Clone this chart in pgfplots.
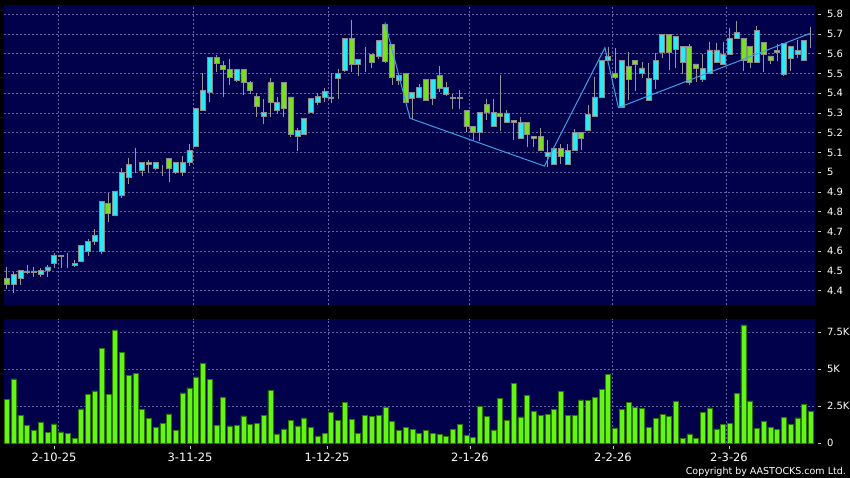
\documentclass[border=0pt]{standalone}
\usepackage{pgfplots}
\pgfplotsset{compat=1.18}
\usepackage{pgfplotstable}
\usepackage{fontspec}
\setmainfont{DejaVu Sans}
\definecolor{navybg}{RGB}{0,0,75}
\definecolor{upcol}{RGB}{40,235,245}
\definecolor{dncol}{RGB}{120,225,30}
\definecolor{edgecol}{RGB}{140,140,140}
\definecolor{wickcol}{RGB}{150,150,150}
\definecolor{gridcol}{RGB}{100,100,165}
\definecolor{volcol}{RGB}{100,245,20}
\definecolor{voledge}{RGB}{40,120,0}
\definecolor{zigcol}{RGB}{60,160,230}
\definecolor{tickcol}{RGB}{200,200,200}
\newcommand\rlab{\fontsize{10pt}{12pt}\selectfont}
\newcommand\dlab{\fontsize{11.5pt}{13pt}\selectfont}
\newcommand\clab{\fontsize{9.5pt}{11pt}\selectfont}

\pgfplotstableread{
i o h l c
0 4.462 4.52 4.41 4.432
1 4.432 4.496 4.39 4.484
2 4.462 4.505 4.429 4.501
3 4.495 4.53 4.485 4.50
4 4.495 4.52 4.47 4.50
5 4.481 4.516 4.47 4.503
6 4.503 4.53 4.47 4.52
7 4.538 4.589 4.516 4.579
8 4.578 4.58 4.516 4.572
9 4.571 4.59 4.516 4.571
10 4.528 4.555 4.518 4.538
11 4.549 4.63 4.549 4.630
12 4.599 4.663 4.577 4.65
13 4.65 4.712 4.63 4.68
14 4.599 4.854 4.587 4.854
15 4.842 4.893 4.749 4.792
16 4.781 4.905 4.781 4.905
17 4.883 5.019 4.871 5.0
18 4.974 5.07 4.94 5.04
19 5.043 5.12 4.997 5.043
20 5.009 5.05 4.982 5.05
21 5.04 5.06 4.997 5.05
22 5.021 5.05 5.009 5.05
23 5.0 5.036 4.982 5.0
24 5.068 5.068 4.952 5.019
25 5.0 5.05 4.99 5.05
26 5.0 5.082 4.982 5.05
27 5.05 5.143 5.031 5.111
28 5.129 5.323 5.129 5.323
29 5.313 5.504 5.313 5.415
30 5.403 5.58 5.353 5.58
31 5.58 5.592 5.508 5.55
32 5.539 5.563 5.382 5.519
33 5.519 5.571 5.44 5.479
34 5.464 5.519 5.457 5.519
35 5.519 5.519 5.39 5.454
36 5.454 5.462 5.395 5.413
37 5.383 5.403 5.281 5.333
38 5.282 5.373 5.242 5.302
39 5.454 5.479 5.277 5.353
40 5.311 5.381 5.294 5.353
41 5.454 5.454 5.281 5.323
42 5.381 5.381 5.18 5.19
43 5.18 5.222 5.109 5.213
44 5.192 5.272 5.19 5.272
45 5.303 5.373 5.30 5.373
46 5.353 5.403 5.34 5.385
47 5.381 5.424 5.356 5.407
48 5.381 5.5 5.348 5.375
49 5.477 5.521 5.371 5.5
50 5.518 5.679 5.506 5.679
51 5.679 5.771 5.506 5.548
52 5.548 5.57 5.486 5.570
53 5.579 5.632 5.506 5.579
54 5.597 5.597 5.527 5.557
55 5.587 5.669 5.574 5.669
56 5.75 5.75 5.557 5.56
57 5.649 5.649 5.439 5.478
58 5.463 5.49 5.443 5.49
59 5.498 5.498 5.352 5.352
60 5.372 5.402 5.271 5.402
61 5.381 5.445 5.381 5.431
62 5.468 5.468 5.364 5.364
63 5.372 5.468 5.339 5.468
64 5.49 5.54 5.406 5.422
65 5.392 5.459 5.39 5.431
66 5.378 5.394 5.318 5.373
67 5.378 5.414 5.318 5.373
68 5.313 5.313 5.204 5.23
69 5.233 5.233 5.162 5.2
70 5.201 5.302 5.157 5.302
71 5.342 5.372 5.263 5.302
72 5.233 5.372 5.233 5.302
73 5.3 5.49 5.209 5.283
74 5.251 5.313 5.251 5.3
75 5.261 5.261 5.162 5.251
76 5.171 5.28 5.171 5.251
77 5.251 5.251 5.129 5.193
78 5.172 5.183 5.129 5.183
79 5.183 5.224 5.112 5.112
80 5.079 5.162 5.028 5.1
81 5.042 5.121 5.042 5.121
82 5.12 5.141 5.042 5.079
83 5.042 5.142 5.042 5.109
84 5.112 5.221 5.112 5.201
85 5.201 5.201 5.112 5.171
86 5.213 5.342 5.213 5.292
87 5.283 5.481 5.283 5.381
88 5.381 5.568 5.381 5.568
89 5.568 5.632 5.565 5.587
90 5.498 5.629 5.47 5.478
91 5.33 5.568 5.33 5.568
92 5.537 5.607 5.364 5.468
93 5.568 5.568 5.409 5.548
94 5.498 5.557 5.478 5.528
95 5.364 5.552 5.364 5.476
96 5.468 5.602 5.419 5.568
97 5.607 5.699 5.579 5.699
98 5.699 5.699 5.515 5.607
99 5.62 5.688 5.528 5.688
100 5.557 5.637 5.498 5.637
101 5.637 5.651 5.444 5.456
102 5.548 5.548 5.456 5.528
103 5.468 5.599 5.459 5.527
104 5.501 5.657 5.501 5.619
105 5.557 5.652 5.557 5.619
106 5.547 5.657 5.547 5.598
107 5.598 5.729 5.598 5.679
108 5.679 5.763 5.679 5.707
109 5.679 5.679 5.513 5.567
110 5.636 5.636 5.527 5.555
111 5.555 5.741 5.555 5.719
112 5.657 5.657 5.505 5.598
113 5.589 5.589 5.547 5.567
114 5.618 5.648 5.564 5.608
115 5.496 5.652 5.488 5.652
116 5.577 5.636 5.513 5.636
117 5.598 5.668 5.577 5.618
118 5.567 5.668 5.567 5.668
119 5.70 5.733 5.631 5.70
}\candles

\pgfplotstableread{
i v
0 2.97
1 4.35
2 1.87
3 1.22
4 0.88
5 1.40
6 0.74
7 1.31
8 0.77
9 0.68
10 0.32
11 2.32
12 3.33
13 3.54
14 6.40
15 3.33
16 7.66
17 6.15
18 4.59
19 4.71
20 2.27
21 1.67
22 1.08
23 1.33
24 1.98
25 0.88
26 3.40
27 3.74
28 4.48
29 5.38
30 4.32
31 1.22
32 3.11
33 1.17
34 1.22
35 1.85
36 1.26
37 1.37
38 1.91
39 3.56
40 0.63
41 0.97
42 1.55
43 1.17
44 1.71
45 1.08
46 0.50
47 0.65
48 2.09
49 1.53
50 2.77
51 1.64
52 0.68
53 1.91
54 1.82
55 1.89
56 2.43
57 1.49
58 0.88
59 1.10
60 0.92
61 0.68
62 0.86
63 0.68
64 0.61
65 0.47
66 0.95
67 1.28
68 0.54
69 0.41
70 2.50
71 1.80
72 0.90
73 3.06
74 1.55
75 4.03
76 1.78
77 3.24
78 2.16
79 1.87
80 1.94
81 2.27
82 3.49
83 1.89
84 1.89
85 2.93
86 2.88
87 3.09
88 3.65
89 4.66
90 1.04
91 2.27
92 2.77
93 2.43
94 2.36
95 1.10
96 1.67
97 1.96
98 1.82
99 2.82
100 0.34
101 0.63
102 0.34
103 2.07
104 2.39
105 0.97
106 1.26
107 1.37
108 3.38
109 8.00
110 2.86
111 1.01
112 1.46
113 1.10
114 0.92
115 1.76
116 1.26
117 1.71
118 2.64
119 2.14
}\vols

\pgfplotsset{
  panel/.style={
    scale only axis, width=811pt,
    xmin=-0.44, xmax=119.6,
    axis background/.style={fill=navybg},
    axis line style={draw=none},
    grid style={draw=gridcol, line width=0.6pt, dash pattern=on 2pt off 2pt},
    tick align=outside,
    major tick length=9pt,
    y tick style={draw=tickcol, line width=0.8pt, dash pattern=on 0pt off 3pt on 3pt off 3pt},
    ytick pos=right, yticklabel pos=right,
    yticklabel style={font=\rlab, text=white, anchor=west, inner xsep=1pt, xshift=1.8pt},
  }
}

\begin{document}
\begin{tikzpicture}
\useasboundingbox (0,0) rectangle (850pt,478pt);
\fill[black] (0,0) rectangle (850pt,478pt);

% price panel
\begin{axis}[panel,
  at={(4pt,173pt)}, anchor=south west, height=300pt,
  ymin=4.3276, ymax=5.8466,
  ybar stacked, reverse stacked plots=false, bar width=5pt,
  xtick={7.55,27.53,47.51,68.38,89.55,106.42}, xticklabels={},
  x tick style={draw=none},
  xmajorgrids, ymajorgrids,
  ytick={4.4,4.5,4.6,4.7,4.8,4.9,5.0,5.1,5.2,5.3,5.4,5.5,5.6,5.7,5.8},
  yticklabels={4.4,4.5,4.6,4.7,4.8,4.9,5,5.1,5.2,5.3,5.4,5.5,5.6,5.7,5.8},
]
\addplot[draw=none, fill=none,
  error bars/.cd, y dir=both, y explicit, error mark=none,
  error bar style={draw=wickcol, line width=1pt, solid}]
  table[x=i, y expr={min(\thisrow{o},\thisrow{c})},
        y error plus expr={\thisrow{h}-min(\thisrow{o},\thisrow{c})},
        y error minus expr={min(\thisrow{o},\thisrow{c})-\thisrow{l}}] {\candles};
\addplot[fill=upcol, draw=edgecol, line width=0.7pt]
  table[x=i, y expr={\thisrow{c}>=\thisrow{o} ? \thisrow{c}-\thisrow{o} : 0}] {\candles};
\addplot[fill=dncol, draw=edgecol, line width=0.7pt]
  table[x=i, y expr={\thisrow{c}<\thisrow{o} ? \thisrow{o}-\thisrow{c} : 0}] {\candles};
\end{axis}

% zigzag overlay
\begin{axis}[scale only axis, width=811pt, height=300pt,
  at={(4pt,173pt)}, anchor=south west,
  xmin=-0.44, xmax=119.6, ymin=4.3276, ymax=5.8466, hide axis]
\addplot[zigcol, line width=1pt] coordinates {
  (55.95,5.758) (59.65,5.273) (79.55,5.031) (88.5,5.630) (90.5,5.327) (118.9,5.703)};
\end{axis}

% volume panel
\begin{axis}[panel,
  at={(4pt,34.7pt)}, anchor=south west, height=124.3pt,
  ymin=0, ymax=8.399,
  ybar, bar width=5pt,
  ytick={0,2.5,5,7.5}, yticklabels={0,2.5K,5K,7.5K},
  extra y ticks={2.5,5,7.5}, extra y tick labels={},
  extra y tick style={grid=major, major tick length=0pt},
  xtick={6.96,27.09,47.37,68.53,89.70,106.87},
  xticklabels={2-10-25,3-11-25,1-12-25,2-1-26,2-2-26,2-3-26},
  xtick pos=bottom,
  x tick style={draw=tickcol, line width=0.8pt, dash pattern=on 0pt off 3pt on 3pt off 3pt},
  xticklabel style={font=\dlab, text=white, yshift=3pt},
  extra x ticks={7.55,27.53,47.51,68.38,89.55,106.42},
  extra x tick labels={},
  extra x tick style={grid=major, major tick length=0pt},
]
\addplot[fill=volcol, draw=voledge, line width=0.6pt] table[x=i, y=v] {\vols};
\end{axis}

\node[anchor=base east, font=\clab, text=white, inner sep=0pt] at (846pt,3.3pt) {Copyright by AASTOCKS.com Ltd.};
\end{tikzpicture}
\end{document}
